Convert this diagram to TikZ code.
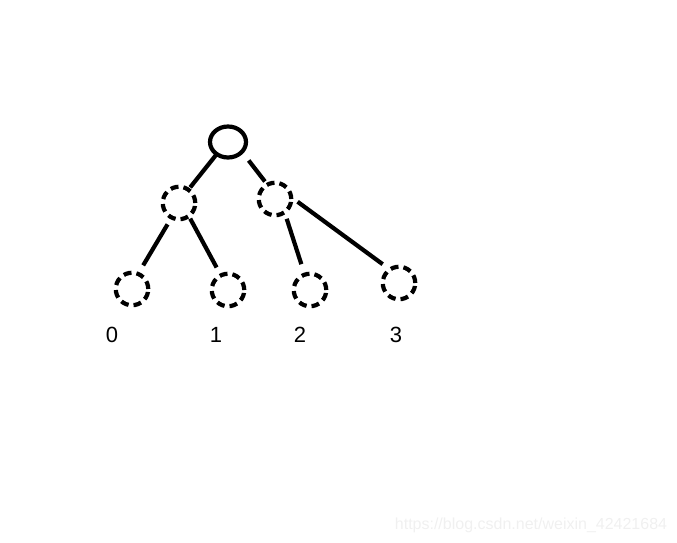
\documentclass[tikz,border=0pt]{standalone}
\usepackage{fontspec}
\setmainfont{Liberation Sans}
\usetikzlibrary{shapes,arrows,positioning}

\begin{document}
\begin{tikzpicture}[x=1pt,y=-1pt,
      top/.style={ellipse,draw,line width=4.2pt,inner sep=0pt,outer sep=0pt,
        minimum width=36pt,minimum height=31pt},
      leaf/.style={circle,draw,line width=4.2pt,dash pattern=on 8pt off 5pt,
        inner sep=0pt,outer sep=0pt,minimum size=32.5pt},
      branch/.style={line width=4.2pt},
      idx/.style={font=\fontsize{22}{22}\selectfont,inner sep=0pt}]
      \useasboundingbox (0,0) rectangle (677,543);
      \node[top] (root) at (228,142) {};
      \node[leaf] (left) at (179,203) {};
      \node[leaf] (right) at (275,199) {};
      \node[leaf] (leaf0) at (132,289) {};
      \node[leaf] (leaf1) at (228,290) {};
      \node[leaf] (leaf2) at (310,290) {};
      \node[leaf] (leaf3) at (399,283) {};
      \draw[branch,shorten <=1pt,shorten >=3pt] (root.227) -- (left.55);
      \draw[branch,shorten <=11pt,shorten >=4pt] (root.325) -- (right.118);
      \draw[branch,shorten <=8pt,shorten >=10pt] (left.243) -- (leaf0.68);
      \draw[branch,shorten <=3pt,shorten >=9pt] (left.307) -- (leaf1.116);
      \draw[branch,shorten <=7pt,shorten >=11pt] (right.306) -- (leaf2.109);
      \draw[branch,shorten <=8pt,shorten >=9pt] (right.7) -- (leaf3.124);
      \node[idx] (num0) at (112,335) {0};
      \node[idx] (num1) at (216,335) {1};
      \node[idx] (num2) at (300,335) {2};
      \node[idx] (num3) at (396,335) {3};
      \node[font=\fontsize{16}{16}\selectfont,text=gray!12] (mark) at (531,525) {https://blog.csdn.net/weixin\_42421684};
    \end{tikzpicture}
\end{document}
